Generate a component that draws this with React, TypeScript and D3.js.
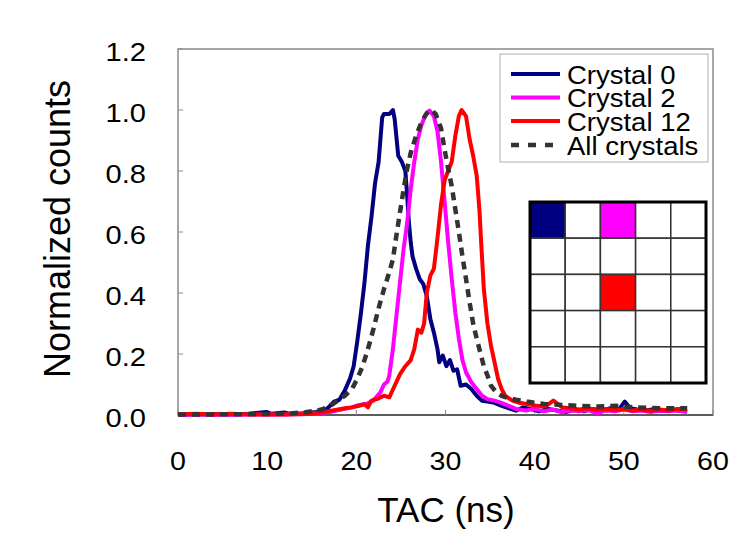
import React from "react";
import * as d3 from "d3";

// TAC (ns) / normalized counts pairs
const crystal0: [number, number][] = [
  [0, 0.002], [2, 0.002], [4, 0.003], [6, 0.002], [8, 0.004], [9.9, 0.01], [10.5, 0.004], [11.9, 0.008], [12.5, 0.004],
  [14, 0.006], [15.5, 0.01], [16.7, 0.02], [17.5, 0.044], [18.1, 0.05], [18.7, 0.08], [19.3, 0.12], [19.7, 0.16],
  [20.1, 0.24], [20.5, 0.33], [20.9, 0.43], [21.3, 0.555], [21.7, 0.65], [22.1, 0.76], [22.5, 0.83], [22.9, 0.976],
  [23.1, 0.987], [23.7, 0.987], [24.1, 1.0], [24.3, 0.97], [24.7, 0.85], [25.1, 0.83], [25.5, 0.8], [25.7, 0.72],
  [25.9, 0.63], [26.1, 0.566], [26.3, 0.52], [26.7, 0.48], [27.1, 0.446], [27.5, 0.43], [27.9, 0.39], [28.3, 0.315],
  [28.7, 0.27], [29.1, 0.216], [29.3, 0.173], [29.7, 0.195], [30.1, 0.16], [30.5, 0.18], [30.9, 0.145], [31.3, 0.15],
  [31.7, 0.096], [32.3, 0.1], [32.9, 0.085], [33.5, 0.063], [34.1, 0.047], [34.7, 0.044], [35.5, 0.04], [36.3, 0.03],
  [37.1, 0.022], [37.9, 0.014], [38.7, 0.025], [39.5, 0.02], [40.5, 0.012], [41.5, 0.02], [42.5, 0.015], [43.5, 0.01],
  [44.5, 0.018], [45.5, 0.012], [46.5, 0.02], [47.5, 0.015], [48.5, 0.022], [49.5, 0.02], [50.1, 0.044], [50.7, 0.022],
  [51.5, 0.018], [52.5, 0.015], [53.5, 0.02], [54.5, 0.014], [55.5, 0.018], [56.3, 0.013], [57.1, 0.015],
];

const crystal2: [number, number][] = [
  [0, 0.001], [3, 0.002], [6, 0.001], [9, 0.002], [12, 0.002], [15, 0.004], [17, 0.01], [18.7, 0.02], [19.5, 0.025],
  [20.3, 0.033], [21.1, 0.036], [21.9, 0.047], [22.7, 0.074], [23.1, 0.1], [23.5, 0.11], [23.7, 0.13], [24.1, 0.216],
  [24.5, 0.326], [24.9, 0.435], [25.3, 0.544], [25.7, 0.63], [26.1, 0.74], [26.5, 0.83], [26.9, 0.905], [27.3, 0.95],
  [27.7, 0.98], [28.2, 0.998], [28.7, 0.98], [29.1, 0.93], [29.5, 0.83], [29.9, 0.7], [30.3, 0.566], [30.7, 0.446],
  [31.1, 0.337], [31.5, 0.25], [31.9, 0.18], [32.3, 0.14], [32.9, 0.107], [33.5, 0.085], [34.1, 0.063], [34.7, 0.052],
  [35.5, 0.047], [36.3, 0.04], [37.1, 0.03], [37.9, 0.02], [39, 0.015], [40, 0.02], [41, 0.012], [42, 0.018],
  [43, 0.01], [44, 0.015], [45, 0.012], [46, 0.016], [47, 0.005], [48, 0.015], [49, 0.012], [50, 0.018], [51, 0.012],
  [52, 0.015], [53, 0.01], [54, 0.014], [55, 0.012], [56, 0.015], [57.1, 0.01],
];

const crystal12: [number, number][] = [
  [0, 0.002], [2, 0.004], [4, 0.002], [6, 0.004], [8, 0.002], [10, 0.002], [12, 0.002], [14.7, 0.003], [16.3, 0.01],
  [17.5, 0.016], [18.7, 0.022], [19.5, 0.025], [20.3, 0.03], [20.9, 0.036], [21.3, 0.025], [21.7, 0.047], [22.3, 0.052],
  [23.1, 0.063], [23.7, 0.058], [24.3, 0.096], [24.9, 0.134], [25.5, 0.16], [26.1, 0.18], [26.5, 0.216], [26.9, 0.28],
  [27.3, 0.27], [27.6, 0.3], [27.9, 0.4], [28.3, 0.457], [28.7, 0.48], [29.1, 0.58], [29.5, 0.69], [29.9, 0.77],
  [30.3, 0.8], [30.7, 0.83], [31.1, 0.915], [31.5, 0.98], [31.8, 1.0], [32.3, 0.98], [32.7, 0.905], [33.1, 0.85],
  [33.5, 0.785], [33.8, 0.675], [34.0, 0.566], [34.3, 0.413], [34.7, 0.3], [35.1, 0.227], [35.5, 0.173], [35.9, 0.118],
  [36.3, 0.085], [36.7, 0.063], [37.5, 0.047], [38.3, 0.04], [39.1, 0.036], [40.3, 0.03], [41.2, 0.028], [42.1, 0.047],
  [43.1, 0.025], [44, 0.022], [45, 0.018], [46, 0.022], [47, 0.016], [48, 0.02], [49, 0.016], [50, 0.02], [51, 0.015],
  [52, 0.018], [53, 0.014], [54, 0.018], [55, 0.015], [56, 0.02], [57.1, 0.02],
];

const allCrystals: [number, number][] = [
  [0, 0.002], [4, 0.002], [8, 0.003], [12, 0.004], [14.3, 0.009], [15.5, 0.014], [16.3, 0.02], [17.1, 0.03],
  [17.9, 0.047], [18.7, 0.063], [19.5, 0.085], [20.1, 0.118], [20.7, 0.16], [21.3, 0.216], [21.9, 0.28], [22.5, 0.35],
  [23.1, 0.413], [23.7, 0.468], [24.1, 0.51], [24.5, 0.59], [24.9, 0.665], [25.3, 0.74], [25.7, 0.807], [26.1, 0.86],
  [26.7, 0.915], [27.3, 0.96], [27.9, 0.99], [28.4, 1.0], [28.9, 0.987], [29.5, 0.94], [29.9, 0.87], [30.3, 0.807],
  [30.7, 0.75], [31.1, 0.675], [31.5, 0.6], [31.9, 0.52], [32.3, 0.446], [32.7, 0.37], [33.1, 0.3], [33.5, 0.25],
  [33.9, 0.205], [34.3, 0.16], [34.7, 0.13], [35.1, 0.096], [35.7, 0.074], [36.3, 0.063], [37.1, 0.055], [37.9, 0.05],
  [39.1, 0.044], [41.1, 0.036], [43.1, 0.033], [45.1, 0.03], [47.1, 0.028], [49.1, 0.03], [51.1, 0.025], [53.1, 0.023],
  [55.1, 0.022], [57.1, 0.022],
];

const seriesNames = ["Crystal 0", "Crystal 2", "Crystal 12", "All crystals"];
const seriesColors = ["#000080", "#ff00ff", "#ff0000", "#333333"];
const crystalIndex = [0, 2, 12, -1];
const xTicks = [0, 10, 20, 30, 40, 50, 60];
const yTicks = [0, 0.2, 0.4, 0.6, 0.8, 1.0, 1.2];
const gridSize = 5;

const FONT = "'Liberation Sans', Arial, sans-serif";

export default function App() {
  const left = 178, right = 713, top = 49, bottom = 415;
  const x = d3.scaleLinear().domain([0, 60]).range([left, right]);
  const y = d3.scaleLinear().domain([0, 1.2]).range([bottom, top]);
  const line = d3.line<[number, number]>().x((d) => x(d[0])).y((d) => y(d[1]));
  const data = [crystal0, crystal2, crystal12, allCrystals];

  // legend
  const lg = { x: 500, y: 54, w: 208, h: 108 };
  const rowY = [74, 97.5, 121, 145];

  // inset grid
  const gx = d3.scaleLinear().domain([0, gridSize]).range([530, 706]);
  const gy = d3.scaleLinear().domain([0, gridSize]).range([202, 383]);
  const cells: { r: number; c: number; fill: string }[] = [];
  for (let r = 0; r < gridSize; r++)
    for (let c = 0; c < gridSize; c++) {
      const idx = r * gridSize + c;
      const s = crystalIndex.indexOf(idx);
      cells.push({ r, c, fill: s >= 0 ? seriesColors[s] : "#ffffff" });
    }

  return (
    <svg width={750} height={543} style={{ position: "absolute", left: 0, top: 0, background: "#fff" }} fontFamily={FONT}>
      <rect x={0} y={0} width={750} height={543} fill="#fff" />
      {/* plot frame */}
      <rect x={left} y={top} width={right - left} height={bottom - top} fill="none" stroke="#8a8a8a" strokeWidth={1.5} />
      <line x1={left} x2={right} y1={bottom} y2={bottom} stroke="#444" strokeWidth={1.5} />
      {yTicks.map((t) => (
        <g key={"y" + t}>
          <line x1={left} x2={left + 5} y1={y(t)} y2={y(t)} stroke="#8a8a8a" strokeWidth={1} />
          <text transform={`translate(146,${y(t) + 3}) scale(1.12,1)`} textAnchor="end" dominantBaseline="central" fontSize={26} fill="#000">
            {t.toFixed(1)}
          </text>
        </g>
      ))}
      {xTicks.map((t) => (
        <g key={"x" + t}>
          <line x1={x(t)} x2={x(t)} y1={bottom} y2={bottom - 5} stroke="#8a8a8a" strokeWidth={1} />
          <text transform={`translate(${x(t)},470) scale(1.1,1)`} textAnchor="middle" fontSize={26} fill="#000">
            {t}
          </text>
        </g>
      ))}
      <text x={446} y={522} textAnchor="middle" fontSize={35} fill="#000">TAC (ns)</text>
      <text transform="translate(70,229) rotate(-90)" textAnchor="middle" fontSize={36} fill="#000">Normalized counts</text>

      {/* curves */}
      {data.map((d, i) => (
        <path
          key={i}
          d={line(d) || ""}
          fill="none"
          stroke={seriesColors[i]}
          strokeWidth={i === 3 ? 4.5 : 4}
          strokeDasharray={i === 3 ? "8,6" : undefined}
          strokeLinejoin="round"
        />
      ))}

      {/* legend */}
      <rect x={lg.x} y={lg.y} width={lg.w} height={lg.h} fill="#fff" stroke="#b0b0b0" strokeWidth={1} />
      {seriesNames.map((n, i) => (
        <g key={n}>
          <line x1={511} x2={560} y1={rowY[i]} y2={rowY[i]} stroke={seriesColors[i]} strokeWidth={i === 3 ? 4.5 : 4}
            strokeDasharray={i === 3 ? "8,9" : undefined} />
          <text transform={`translate(567,${rowY[i] + 1}) scale(1.1,1)`} dominantBaseline="central" fontSize={25} fill="#000">{n}</text>
        </g>
      ))}

      {/* inset crystal grid */}
      {cells.map((c) => (
        <rect key={c.r + "-" + c.c} x={gx(c.c)} y={gy(c.r)} width={gx(1) - gx(0)} height={gy(1) - gy(0)}
          fill={c.fill} stroke="#333" strokeWidth={1.5} />
      ))}
      <rect x={gx(0)} y={gy(0)} width={gx(gridSize) - gx(0)} height={gy(gridSize) - gy(0)} fill="none" stroke="#000" strokeWidth={3} />
    </svg>
  );
}
